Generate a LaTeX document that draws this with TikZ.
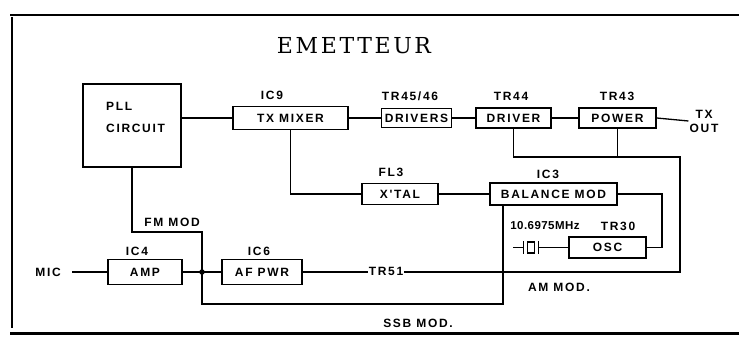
\documentclass[tikz,border=0pt]{standalone}
\usepackage{fontspec}
\newfontfamily\lblfont[LetterSpace=14]{Liberation Sans}
\newfontfamily\titlefont[LetterSpace=12]{DejaVu Serif}
\usetikzlibrary{positioning}
\tikzset{wire/.style={line width=1.3pt,draw=black},
  blk/.style={draw,line width=1.4pt,inner sep=0pt,minimum height=21pt,font={\lblfont\bfseries\fontsize{12}{14}\selectfont}},
  tag/.style={inner sep=1pt,font={\lblfont\bfseries\fontsize{12}{14}\selectfont}},
  jdot/.style={circle,fill,inner sep=0pt,minimum size=5.5pt}}

\begin{document}
\begin{tikzpicture}[x=1pt,y=-1pt]
\useasboundingbox (0,0) rectangle (739,339);
% frame
\draw[line width=1.2pt] (10,15) -- (739,15);
\draw[line width=1.2pt] (12,17) -- (12,328);
\draw[line width=3pt] (10,333) -- (739,333);
\node[font={\titlefont\fontsize{22}{26}\selectfont}] (title) at (354,46) {EMETTEUR};

% top row
\node[blk,minimum width=98pt,minimum height=83pt] (pll) at (132,125.5) {};
\node[tag,align=left,anchor=west] (pllt) at (105,117) {PLL\\[8pt]CIRCUIT};
\node[blk,minimum width=115pt,minimum height=23pt] (mixer) at (290.5,118) {TX MIXER};
\node[blk,minimum width=70pt,minimum height=19pt] (drivers) at (416.5,118) {DRIVERS};
\node[blk,minimum width=75pt,minimum height=20pt] (driver) at (513.5,118) {DRIVER};
\node[blk,minimum width=77pt,minimum height=20pt] (power) at (617.5,118) {POWER};
\node[tag] (ic9) at (272,95) {IC9};
\node[tag] (tr4546) at (410,96) {TR45/46};
\node[tag] (tr44) at (511,96) {TR44};
\node[tag] (tr43) at (617,96) {TR43};
\node[tag,align=center] (txout) at (704,121) {TX\\OUT};
\draw[wire] (pll.east |- mixer.west) -- (mixer.west);
\draw[wire] (mixer.east) -- (drivers.west);
\draw[wire] (drivers.east) -- (driver.west);
\draw[wire] (driver.east) -- (power.west);
\draw[wire] (power.east) -- (txout.west);

% middle row
\node[blk,minimum width=76pt,minimum height=21pt] (xtal) at (400,194) {X'TAL};
\node[blk,minimum width=127pt,minimum height=22pt] (bal) at (553.5,194) {BALANCE MOD};
\node[blk,minimum width=77pt,minimum height=21pt] (osc) at (607.5,247.5) {OSC};
\node[tag] (fl3) at (391,172) {FL3};
\node[tag] (ic3) at (548,174) {IC3};
\node[tag] (tr30) at (618,226) {TR30};
\node[tag,font={\lblfont\bfseries\fontsize{11.5}{13}\selectfont\addfontfeatures{LetterSpace=4}}] (freq) at (545,226) {10.6975MHz};
\coordinate (oscr) at (662,194);
\draw[wire] (mixer.south) |- (xtal.west);
\draw[wire] (xtal.east) -- (bal.west);
\draw[wire] (bal.east) -- (oscr) |- (osc.east);
% crystal
\node[draw,line width=1.2pt,minimum width=7pt,minimum height=11pt,inner sep=0pt] (qz) at (531,247.5) {};
\coordinate (qin) at (513,247.5);
\draw[wire] (qin) -- ([xshift=-3.5]qz.west);
\draw[wire] ([xshift=-3.5,yshift=-6.5]qz.west) -- ([xshift=-3.5,yshift=6.5]qz.west);
\draw[wire] ([xshift=3.5,yshift=-6.5]qz.east) -- ([xshift=3.5,yshift=6.5]qz.east);
\draw[wire] ([xshift=3.5]qz.east) -- (osc.west);

% bottom row
\node[tag,anchor=east] (mic) at (62,272) {MIC};
\node[blk,minimum width=74pt,minimum height=25pt] (amp) at (145,272) {AMP};
\node[blk,minimum width=80pt,minimum height=25pt] (afpwr) at (262,272) {AF PWR};
\node[tag] (ic4) at (137,251) {IC4};
\node[tag] (ic6) at (259,251) {IC6};
\node[tag] (tr51) at (386,271) {TR51};
\node[tag] (fmmod) at (172,222) {FM MOD};
\node[tag] (ammod) at (559,287) {AM MOD.};
\node[tag] (ssbmod) at (418,323) {SSB MOD.};
\coordinate (jn) at (202,272);
\coordinate (fmc) at (202,232);
\coordinate (ssbr) at (503,304);
\coordinate (ssbl) at (202,304);
\coordinate (amr) at (680,272);
\coordinate (amt) at (680,157);
\draw[wire] ([xshift=10]mic.east) -- (amp.west);
\draw[wire] (amp.east) -- (jn) -- (afpwr.west);
\node[jdot] (jd) at (jn) {};
\draw[wire] (pll.south) |- (fmc) -- (jn);
\draw[wire] (ssbr |- bal.south) -- (ssbr) -- (ssbl) -- (jn);
\draw[wire] (afpwr.east) -- (tr51.west |- jn);
\draw[wire] (tr51.east |- jn) -- (amr) -- (amt) -| (driver.south);
\draw[wire] (power.south) -- (power.south |- amt);
\end{tikzpicture}
\end{document}
